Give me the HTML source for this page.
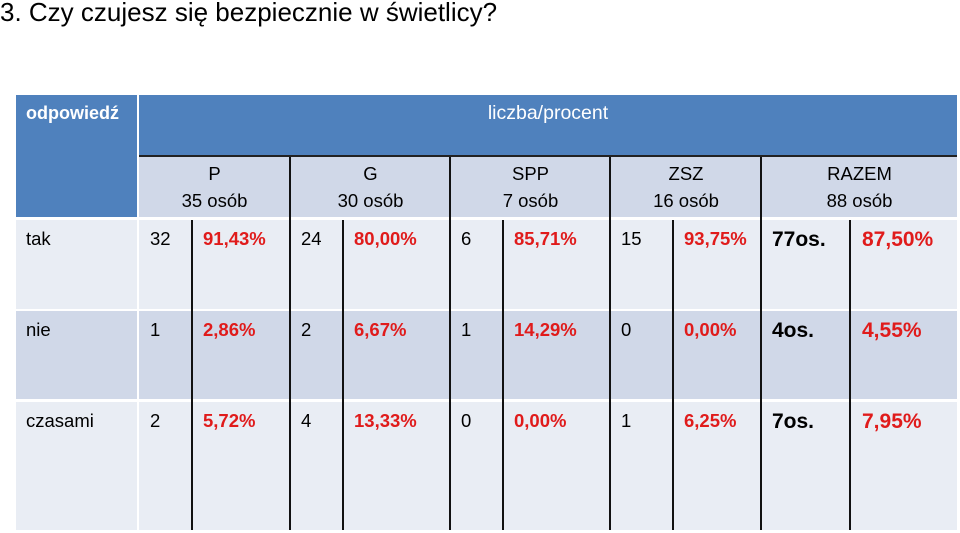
<!DOCTYPE html>
<html><head><meta charset="utf-8"><style>
body{margin:0;width:960px;height:533px;background:#fff;position:relative;overflow:hidden;font-family:"Liberation Sans",sans-serif;}
div{position:absolute;box-sizing:border-box;}
.t{white-space:nowrap;font-size:18.5px;color:#000;}
.r{color:#e01b1b;font-weight:bold;}
.b{font-weight:bold;font-size:21px;}
.h{color:#fff;font-size:19.5px;}
.c{text-align:center;font-size:18.5px;line-height:26px;}
</style></head><body>
<div class="t" style="left:0;top:-3px;font-size:26px;">3. Czy czujesz się bezpiecznie w świetlicy?</div>
<div style="left:16px;top:95px;width:121px;height:122px;background:#4f81bd;"><div class="t h" style="left:10px;top:8px;font-weight:bold;font-size:18px;">odpowiedź</div></div>
<div style="left:139px;top:95px;width:818px;height:61px;background:#4f81bd;"><div class="t h" style="left:0;width:818px;text-align:center;top:7px;">liczba/procent</div></div>
<div style="left:139px;top:155px;width:818px;height:2px;background:#222;"></div>
<script>
const groups=["P","G","SPP","ZSZ","RAZEM"];
const groupCounts=["35 osób","30 osób","7 osób","16 osób","88 osób"];
const answers=["tak","nie","czasami"];
const counts=[["32","24","6","15","77os."],["1","2","1","0","4os."],["2","4","0","1","7os."]];
const percents=[["91,43%","80,00%","85,71%","93,75%","87,50%"],["2,86%","6,67%","14,29%","0,00%","4,55%"],["5,72%","13,33%","0,00%","6,25%","7,95%"]];
const colL=[139,290,450,610,761],colR=[290,450,610,761,957],split=[192,343,503,673,850];
const rowT=[220,311,402],rowB=[309,399,530],rowBg=["#e9edf4","#d0d8e8","#e9edf4"];
const body=document.body;
function mk(st,name,cls,txt){const d=document.createElement('div');d.setAttribute('style',st);


if(cls)d.className=cls;if(txt!==undefined)d.textContent=txt;body.appendChild(d);return d;}
groups.forEach((g,i)=>{
  const d=mk(`left:${colL[i]+(i?1:0)}px;top:157px;width:${colR[i]-colL[i]-(i?1:0)}px;height:60px;background:#d0d8e8;`,'group-header-'+g.toLowerCase(),'c');
  const s=document.createElement('div');s.setAttribute('style','position:absolute;left:0;right:0;top:4px;');s.className='c';s.textContent=g;d.appendChild(s);
  const s2=document.createElement('div');s2.setAttribute('style','position:absolute;left:0;right:0;top:31px;');s2.className='c';s2.textContent=groupCounts[i];d.appendChild(s2);
});
answers.forEach((a,r)=>{
  mk(`left:16px;top:${rowT[r]}px;width:941px;height:${rowB[r]-rowT[r]}px;background:${rowBg[r]};`,'row-'+a);
  mk(`left:26px;top:${rowT[r]+8}px;`,'answer-label-'+a,'t',a);
  groups.forEach((g,i)=>{
    const last=i===4;
    mk(`left:${colL[i]+11}px;top:${rowT[r]+(last?8:8)}px;`,'count-'+a+'-'+g.toLowerCase(),'t'+(last?' b':''),counts[r][i]);
    mk(`left:${split[i]+(last?12:11)}px;top:${rowT[r]+(last?8:8)}px;`,'percent-'+a+'-'+g.toLowerCase(),'t r'+(last?' b':''),percents[r][i]);
  });
});
mk('left:16px;top:217px;width:941px;height:3px;background:#fff;','row-gap');
mk('left:16px;top:309px;width:941px;height:2px;background:#fff;','row-gap');
mk('left:16px;top:399px;width:941px;height:3px;background:#fff;','row-gap');
mk('left:137px;top:95px;width:2px;height:435px;background:#fff;','col-gap');
colL.slice(1).forEach(x=>mk(`left:${x-1}px;top:157px;width:2px;height:373px;background:#111;`,'group-divider'));
split.forEach(x=>mk(`left:${x-1}px;top:220px;width:2px;height:310px;background:#111;`,'count-percent-divider'));
</script>
</body></html>
